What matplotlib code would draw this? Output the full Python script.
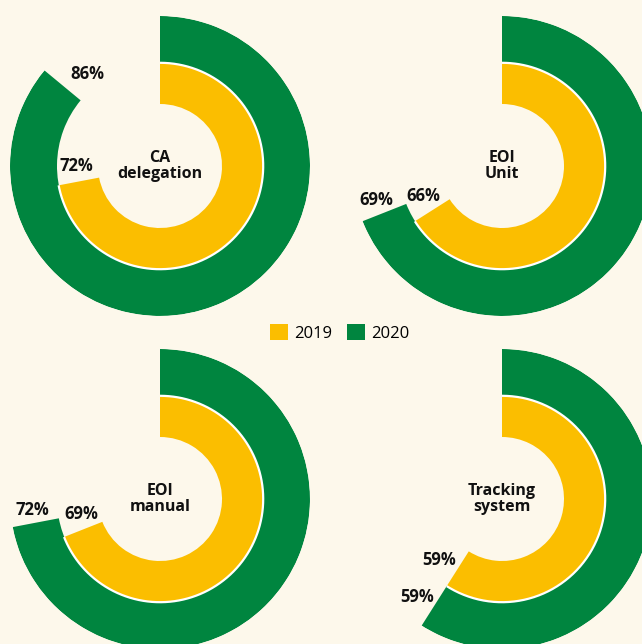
import numpy as np
import matplotlib
matplotlib.use("Agg")
import matplotlib.pyplot as plt
from matplotlib.patches import Patch

plt.rcParams['font.family'] = ['Open Sans', 'DejaVu Sans']

# ---- data ----
categories = ["CA\ndelegation", "EOI\nUnit", "EOI\nmanual", "Tracking\nsystem"]
years = ["2019", "2020"]
values_2019 = [72, 66, 69, 59]
values_2020 = [86, 69, 72, 59]

# ---- style ----
BG = "#FDF8EB"
YELLOW = "#FBBE00"
GREEN = "#00853F"
W, H = 642, 644

# chart centres (pixels from top-left), common radius scale
centres = [(160, 166), (502, 166), (160, 499), (502, 499)]
R = 150.0
# label placement: (angle offset deg beyond end, radius) for 2019 and 2020
lab19 = [(10.8, 84), (11.4, 84), (10.8, 80), (13.6, 88)]
lab20 = [(12.0, 117), (6.5, 130), (5.8, 128), (8.6, 130)]

fig = plt.figure(figsize=(W / 100, H / 100), dpi=100, facecolor=BG)

for i, (cx, cy) in enumerate(centres):
    ax = fig.add_axes([(cx - R) / W, (H - cy - R) / H, 2 * R / W, 2 * R / H],
                      projection='polar')
    ax.set_theta_zero_location('N')
    ax.set_theta_direction(-1)
    ax.set_ylim(0, R)
    ax.set_axis_off()
    ax.patch.set_alpha(0)

    th20 = values_2020[i] / 100 * 2 * np.pi
    th19 = values_2019[i] / 100 * 2 * np.pi
    ax.bar(0, 47, width=th20, bottom=103, align='edge', color=GREEN,
           linewidth=0, zorder=2)
    ax.bar(0, 41, width=th19, bottom=62, align='edge', color=YELLOW,
           linewidth=0, zorder=3)
    t = np.linspace(0, th19, 300)
    ax.plot(t, np.full_like(t, 103.2), color='white', lw=1.6, zorder=4,
            solid_capstyle='butt')

    a19, r19 = lab19[i]
    a20, r20 = lab20[i]
    ax.text(th19 + np.deg2rad(a19), r19, f"{values_2019[i]}%", ha='center',
            va='center', fontsize=12, fontweight='bold', color='#111111',
            zorder=5)
    ax.text(th20 + np.deg2rad(a20), r20, f"{values_2020[i]}%", ha='center',
            va='center', fontsize=12, fontweight='bold', color='#111111',
            zorder=5)
    ax.text(0, 0, categories[i], ha='center', va='center', fontsize=11.5,
            fontweight='bold', color='#111111', linespacing=0.95, zorder=5)

handles = [Patch(facecolor=YELLOW, edgecolor='none'),
           Patch(facecolor=GREEN, edgecolor='none')]
fig.legend(handles, years, loc='center', bbox_to_anchor=(0.529, 0.483),
           ncol=2, frameon=False, fontsize=12, handlelength=1.1,
           handleheight=1.1, handletextpad=0.35, columnspacing=0.9)

fig.savefig("out.png", dpi=100, facecolor=BG)
